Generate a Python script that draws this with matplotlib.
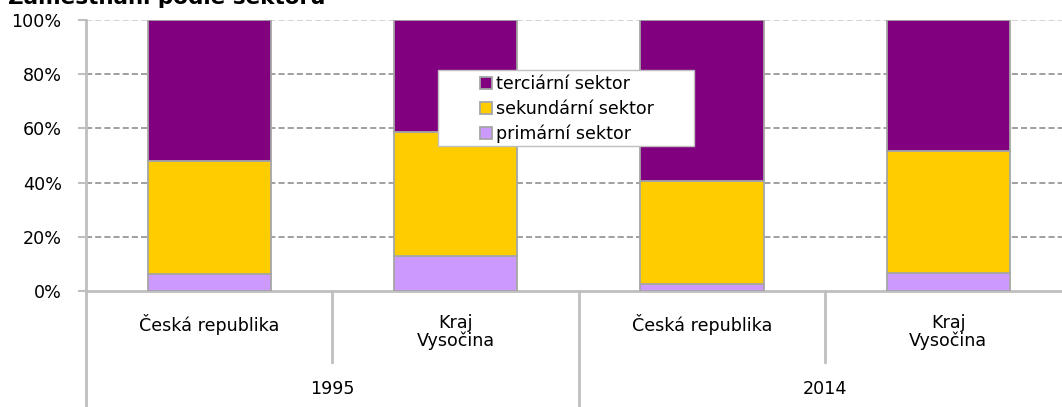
import matplotlib
matplotlib.use("Agg")
import matplotlib.pyplot as plt
import matplotlib.transforms as mtransforms
from matplotlib.patches import Rectangle
import numpy as np

plt.rcParams['font.family'] = ['DejaVu Sans']

years = ["1995", "2014"]
regions = ["Česká republika", "Kraj\nVysočina", "Česká republika", "Kraj\nVysočina"]
primarni = [6.3, 12.9, 2.6, 6.6]
sekundarni = [41.7, 45.8, 38.0, 45.1]
terciarni = [52.0, 41.3, 59.4, 48.3]

series_names = ["primární sektor", "sekundární sektor", "terciární sektor"]
colors = ["#CC99FF", "#FFCC00", "#800080"]

W, H = 1062, 407
fig = plt.figure(figsize=(W / 100, H / 100), dpi=100)
left, right, top, bottom = 86, 1071.5, 20, 291
ax = fig.add_axes([left / W, 1 - bottom / H, (right - left) / W, (bottom - top) / H])

FS = 12.6
x = np.arange(len(regions))
bw = 0.5
bars = []
base = np.zeros(len(regions))
for vals, name, c in zip([primarni, sekundarni, terciarni], series_names, colors):
    b = ax.bar(x, vals, bw, bottom=base, color=c, edgecolor="#A6A6A6", linewidth=1.3,
               label=name, zorder=3)
    bars.append(b)
    base = base + np.array(vals)

ax.set_xlim(-0.5, len(regions) - 0.5)
ax.set_ylim(0, 100)
ax.set_yticks([0, 20, 40, 60, 80, 100])
ax.set_yticklabels([f"{v}%" for v in [0, 20, 40, 60, 80, 100]], fontsize=FS)
ax.set_xticks([])
for yv in [20, 40, 60, 80, 100]:
    ax.axhline(yv, color="#868686" if yv < 100 else "#C8C8C8", linestyle=(0, (4, 2)),
               linewidth=1.1, zorder=1)
for s in ["top", "right"]:
    ax.spines[s].set_visible(False)
for s in ["left", "bottom"]:
    ax.spines[s].set_color("#BFBFBF")
    ax.spines[s].set_linewidth(2)
ax.tick_params(axis="y", length=6, color="#BFBFBF", width=1.5, pad=11.5)

trans = mtransforms.blended_transform_factory(ax.transData, fig.transFigure)
# category labels
for xi, lab in zip(x, regions):
    ax.text(xi, 1 - 314 / H, lab, transform=trans, ha="center", va="top",
            fontsize=FS, linespacing=0.95)
# year labels
for gi, yr in enumerate(years):
    ax.text(gi * 2 + 0.5, 1 - 389 / H, yr, transform=trans, ha="center", va="center",
            fontsize=FS)
# separators
for xs, yend in [(-0.5, 407), (0.5, 362), (1.5, 407), (2.5, 362)]:
    ax.plot([xs, xs], [1 - 291 / H, 1 - yend / H], transform=trans, color="#BFBFBF",
            linewidth=2, clip_on=False)

# legend box (white background)
box = Rectangle((438 / W, 1 - 146 / H), (694 - 438) / W, (146 - 70) / H,
                transform=fig.transFigure, facecolor="white", edgecolor="#BFBFBF",
                linewidth=1, zorder=4, clip_on=False)
ax.add_patch(box)

handles = [bars[2], bars[1], bars[0]]
leg = ax.legend(handles, [series_names[2], series_names[1], series_names[0]],
                loc="upper left",
                bbox_to_anchor=((480 - left) / (right - left), 1 - (75 - top) / (bottom - top)),
                frameon=False, fontsize=FS, handlelength=0.68, handleheight=0.68,
                handletextpad=0.23, borderpad=0, labelspacing=0.38, borderaxespad=0)
leg.set_zorder(5)

fig.text(8 / W, 1 - 4 / H, "Zaměstnaní podle sektorů", fontsize=15.5, fontweight="bold",
         ha="left", va="baseline")

fig.savefig("out.png", dpi=100)
